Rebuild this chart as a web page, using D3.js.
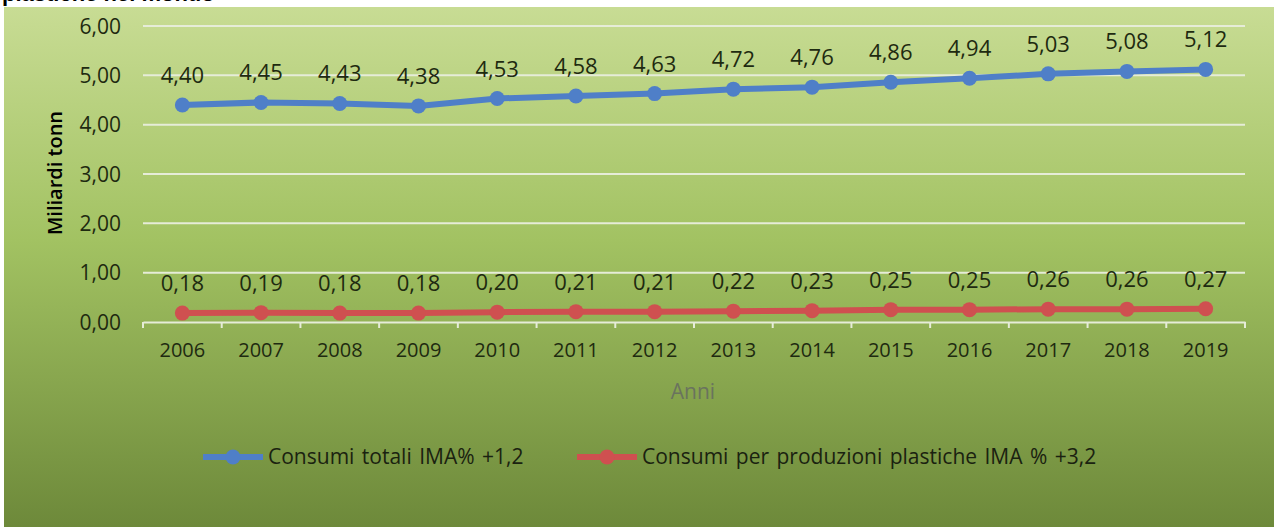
<!DOCTYPE html>
<html>
<head>
<meta charset="utf-8">
<script src="https://cdn.jsdelivr.net/npm/d3@7"></script>
<style>
  body { margin: 0; background: #fff; }
  text { font-family: "Open Sans", sans-serif; }
</style>
</head>
<body>
<svg width="1274" height="527"></svg>
<script>
var years = ["2006", "2007", "2008", "2009", "2010", "2011", "2012", "2013", "2014", "2015", "2016", "2017", "2018", "2019"];
var totali = [4.40, 4.45, 4.43, 4.38, 4.53, 4.58, 4.63, 4.72, 4.76, 4.86, 4.94, 5.03, 5.08, 5.12];
var plastiche = [0.18, 0.19, 0.18, 0.18, 0.20, 0.21, 0.21, 0.22, 0.23, 0.25, 0.25, 0.26, 0.26, 0.27];
var yTicks = [0, 1, 2, 3, 4, 5, 6];
var seriesNames = ["Consumi totali IMA% +1,2", "Consumi per produzioni plastiche IMA % +3,2"];

var svg = d3.select("svg");
var fmt = function (v) { return d3.format(".2f")(v).replace(".", ","); };

// green panel background
var grad = svg.append("defs").append("linearGradient")
    .attr("id", "bg").attr("x1", 0).attr("y1", 0).attr("x2", 0).attr("y2", 1);
grad.append("stop").attr("offset", "0%").attr("stop-color", "#c8dc94");
grad.append("stop").attr("offset", "45%").attr("stop-color", "#a2c262");
grad.append("stop").attr("offset", "100%").attr("stop-color", "#6d893a");

svg.append("rect")
    .attr("x", 4).attr("y", 7)
    .attr("width", 1270).attr("height", 520)
    .attr("fill", "url(#bg)");

// title, cut off at the top in the source
svg.append("text")
    .attr("x", 2).attr("y", 1)
    .style("font-family", "Liberation Sans, Arial, sans-serif")
    .style("font-weight", "bold")
    .style("font-size", "22px")
    .text("plastiche nel mondo");

var x = d3.scaleBand().domain(years).range([143, 1245]);
var y = d3.scaleLinear().domain([0, 6]).range([322, 26]);

// gridlines
svg.append("g").selectAll("line")
    .data(yTicks.filter(function (d) { return d > 0; }))
    .enter().append("line")
    .attr("x1", 143).attr("x2", 1245)
    .attr("y1", function (d) { return y(d); })
    .attr("y2", function (d) { return y(d); })
    .attr("stroke", "#e6ecd8").attr("stroke-width", 2);

// y axis labels
svg.append("g").selectAll("text")
    .data(yTicks)
    .enter().append("text")
    .attr("x", 121)
    .attr("y", function (d) { return y(d); })
    .attr("dy", "0.36em")
    .attr("text-anchor", "end")
    .style("font-size", "21px")
    .attr("fill", "#1e2a10")
    .text(fmt);

// x axis
var xAxis = svg.append("g")
    .attr("transform", "translate(0,322)")
    .call(d3.axisBottom(x).tickSize(0).tickPadding(21).tickSizeOuter(0));
xAxis.select(".domain").attr("stroke", "#e6ecd8").attr("stroke-width", 2);
xAxis.selectAll("text").style("font-size", "20px").attr("fill", "#1e2a10")
    .style("font-family", "Open Sans, sans-serif");
xAxis.selectAll(".sep")
    .data(d3.range(years.length + 1))
    .enter().append("line")
    .attr("x1", function (i) { return 143 + i * x.step(); })
    .attr("x2", function (i) { return 143 + i * x.step(); })
    .attr("y1", 0).attr("y2", 6)
    .attr("stroke", "#e6ecd8").attr("stroke-width", 2);

// axis titles
svg.append("text")
    .attr("transform", "translate(55,173) rotate(-90)")
    .attr("text-anchor", "middle")
    .attr("dy", "0.35em")
    .style("font-size", "20px")
    .style("font-weight", "600")
    .attr("fill", "#000")
    .text("Miliardi tonn");

svg.append("text")
    .attr("x", 693).attr("y", 392)
    .attr("dy", "0.35em")
    .attr("text-anchor", "middle")
    .style("font-size", "21px")
    .attr("fill", "#6a735e")
    .text("Anni");

// series
var series = [
    { name: seriesNames[0], values: totali, color: "#4f7fc8" },
    { name: seriesNames[1], values: plastiche, color: "#cf5050" }
];

var line = d3.line()
    .x(function (d, i) { return x(years[i]) + x.bandwidth() / 2; })
    .y(function (d) { return y(d); });

series.forEach(function (s) {
    var g = svg.append("g");
    g.append("path")
        .datum(s.values)
        .attr("d", line)
        .attr("fill", "none")
        .attr("stroke", s.color)
        .attr("stroke-width", 6);
    g.selectAll("circle")
        .data(s.values)
        .enter().append("circle")
        .attr("cx", function (d, i) { return x(years[i]) + x.bandwidth() / 2; })
        .attr("cy", function (d) { return y(d); })
        .attr("r", 7.5)
        .attr("fill", s.color);
    g.selectAll("text")
        .data(s.values)
        .enter().append("text")
        .attr("x", function (d, i) { return x(years[i]) + x.bandwidth() / 2; })
        .attr("y", function (d) { return y(d) - 22; })
        .attr("text-anchor", "middle")
        .style("font-size", "22px")
        .attr("fill", "#1e2a10")
        .text(fmt);
});

// legend
var legendX = [203, 577];
var legend = svg.append("g").selectAll("g")
    .data(series)
    .enter().append("g")
    .attr("transform", function (d, i) { return "translate(" + legendX[i] + ",457)"; });
legend.append("line")
    .attr("x1", 0).attr("x2", 60)
    .attr("stroke", function (d) { return d.color; })
    .attr("stroke-width", 6);
legend.append("circle")
    .attr("cx", 30).attr("r", 7.5)
    .attr("fill", function (d) { return d.color; });
legend.append("text")
    .attr("x", 65).attr("dy", "0.35em")
    .style("font-size", "21px")
    .style("word-spacing", "2px")
    .attr("fill", "#1a2210")
    .text(function (d) { return d.name; });
</script>
</body>
</html>
